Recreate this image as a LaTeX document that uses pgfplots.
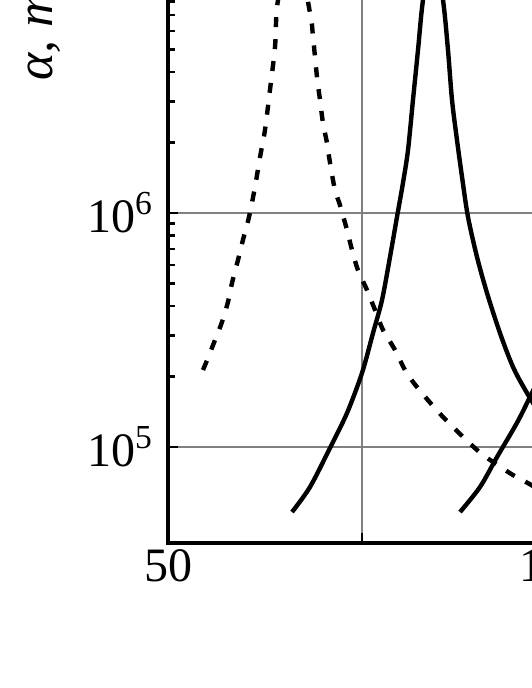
\documentclass[border=0pt]{standalone}
\usepackage{pgfplots}
\pgfplotsset{compat=1.18}
\usepackage{fontspec}
\setmainfont{Liberation Serif}

\begin{document}
\begin{tikzpicture}
\begin{axis}[
  at={(0,0)}, anchor=south west,
  scale only axis, width=194pt, height=282pt,
  xmin=50, xmax=100,
  ymode=log, ymin=3.888e4, ymax=1e7,
  xtick={50,75,100}, xticklabels={50,,100},
  ytick={1e5,1e6,1e7},
  yticklabels={10\textsuperscript{5},10\textsuperscript{6},{}},
  grid=major,
  major grid style={gray, line width=1pt},
  axis line style={line width=2pt},
  tick align=inside,
  major tick length=5pt, minor tick length=3.5pt,
  every tick/.style={black, line width=1.2pt},
  tick label style={font=\fontsize{24}{28}\selectfont},
  yticklabel style={xshift=-4pt},
  ylabel={\textit{α, m}\textsuperscript{−1}},
  ylabel style={at={(axis description cs:-0.342,0.807)}, anchor=west,
    font=\fontsize{26}{30}\selectfont},
]
% dashed curve
\addplot[black, line width=2.2pt, dash pattern=on 5pt off 6pt, smooth] coordinates {
  (54.51,2.133e5) (55.15,2.399e5) (56.06,2.864e5) (56.96,3.420e5)
  (57.73,4.169e5) (58.25,5.023e5) (59.02,6.295e5) (59.66,7.674e5)
  (60.44,9.616e5) (61.21,1.291e6) (61.86,1.734e6) (62.50,2.265e6)
  (63.14,3.357e6) (63.79,5.117e6) (64.18,8.128e6) (66.24,1.469e7)
  (68.30,7.161e6) (68.69,5.649e6) (69.20,3.811e6) (69.59,3.041e6)
  (69.97,2.427e6) (70.49,1.991e6) (70.88,1.637e6) (71.52,1.253e6)
  (72.16,1.081e6) (73.07,8.45e5) (73.71,6.95e5) (74.48,5.70e5)
  (75.64,4.69e5) (76.68,3.85e5) (77.71,3.162e5) (79.25,2.600e5)
  (80.54,2.133e5) (82.09,1.803e5) (85.44,1.343e5) (89.82,9.705e4)
  (91.88,8.630e4) (94.46,7.586e4) (96.78,6.887e4) (100,5.888e4)
};
% solid curve 1
\addplot[black, line width=2.2pt, smooth] coordinates {
  (65.98,5.27e4) (68.30,6.745e4) (70.88,9.91e4) (73.07,1.397e5)
  (75.00,2.070e5) (76.42,3.069e5) (77.58,4.246e5) (78.61,6.486e5)
  (79.51,9.616e5) (80.28,1.343e6) (80.93,1.858e6) (81.57,3.041e6)
  (82.22,4.977e6) (82.86,8.128e6) (84.15,1.469e7) (85.44,8.128e6)
  (86.08,4.977e6) (86.60,3.041e6) (87.24,2.051e6) (87.89,1.426e6)
  (88.66,9.616e5) (89.82,6.486e5) (91.11,4.550e5) (92.78,3.069e5)
  (94.46,2.198e5) (96.26,1.702e5) (100,1.062e5)
};
% solid curve 2
\addplot[black, line width=2.2pt, smooth] coordinates {
  (87.63,5.27e4) (90.21,6.745e4) (92.40,9.057e4) (94.97,1.268e5)
  (96.65,1.637e5) (100,2.78e5)
};
\end{axis}
\pgfresetboundingbox
\useasboundingbox (-84pt,-72.5pt) rectangle (181.5pt,271.5pt);
\end{tikzpicture}
\end{document}
